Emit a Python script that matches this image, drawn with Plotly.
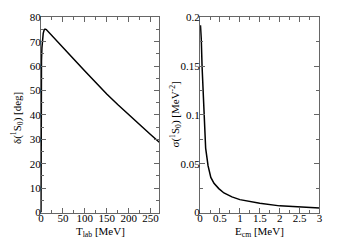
import plotly.graph_objects as go

# Left panel: phase shift
t_lab = [0, 0.02, 0.1, 0.3, 0.6, 1, 2, 3, 5, 7, 9, 12, 20, 30, 50, 75, 100, 125, 150, 175, 200, 225, 250, 270]
delta = [0, 20, 38, 50, 57, 62, 67.5, 70.5, 73.5, 74.8, 75.2, 75.0, 73.5, 71.5, 67.5, 62.8, 58.0, 53.2, 48.6, 44.3, 40.1, 36.0, 32.0, 28.8]

# Right panel: cross section
e_cm = [0.01, 0.03, 0.05, 0.08, 0.1, 0.14, 0.2, 0.27, 0.35, 0.47, 0.6, 0.8, 1.0, 1.25, 1.5, 2.0, 2.5, 3.0]
sigma = [0.192, 0.178, 0.15, 0.115, 0.097, 0.066, 0.048, 0.036, 0.03, 0.0245, 0.02, 0.016, 0.0132, 0.011, 0.0095, 0.0068, 0.0056, 0.0046]

FONT = "Liberation Serif, Times New Roman, serif"
AX = "#666666"

fig = go.Figure()
fig.add_trace(go.Scatter(x=t_lab, y=delta, mode="lines", line=dict(color="black", width=1.5),
                         xaxis="x", yaxis="y", showlegend=False, hoverinfo="skip"))
fig.add_trace(go.Scatter(x=e_cm, y=sigma, mode="lines", line=dict(color="black", width=1.5),
                         xaxis="x2", yaxis="y2", showlegend=False, hoverinfo="skip"))

common = dict(showgrid=False, zeroline=False, showline=True, linecolor=AX, linewidth=1,
              mirror="allticks", ticks="inside", ticklen=5, tickcolor=AX,
              tickfont=dict(family=FONT, size=11, color="black"))
xcommon = dict(common, ticklabelstandoff=-5)
ycommon = dict(common, ticklabelstandoff=-3)

y_dom = [31 / 248, 236 / 248]
xd1 = [38.7 / 351, 159 / 351]
xd2 = [200.5 / 351, 322 / 351]
fig.update_layout(
    width=351, height=248,
    margin=dict(l=0, r=0, t=0, b=0),
    paper_bgcolor="white", plot_bgcolor="white",
    font=dict(family=FONT, size=11, color="black"),
    xaxis=dict(domain=xd1, range=[0, 270], dtick=50, tick0=0,
               minor=dict(ticks="inside", ticklen=3, dtick=25, tickcolor=AX),
               anchor="y", **xcommon),
    yaxis=dict(domain=y_dom, range=[0, 80], dtick=10, tick0=0,
               minor=dict(ticks="inside", ticklen=3, dtick=5, tickcolor=AX),
               anchor="x", **ycommon),
    xaxis2=dict(domain=xd2, range=[0, 3], dtick=0.5, tick0=0,
                minor=dict(ticks="inside", ticklen=3, dtick=0.25, tickcolor=AX),
                anchor="y2", **xcommon),
    yaxis2=dict(domain=y_dom, range=[0, 0.2], dtick=0.05, tick0=0,
                minor=dict(ticks="inside", ticklen=3, dtick=0.025, tickcolor=AX),
                anchor="x2", **ycommon),
)

titles = [
    dict(text="T<sub>lab</sub> [MeV]", x=(xd1[0] + xd1[1]) / 2, y=11 / 248, textangle=0),
    dict(text="E<sub>cm</sub> [MeV]", x=(xd2[0] + xd2[1]) / 2, y=11 / 248, textangle=0),
    dict(text="δ(<sup>1</sup>S<sub>0</sub>) [deg]", x=15 / 351, y=130 / 248, textangle=-90),
    dict(text="σ(<sup>1</sup>S<sub>0</sub>) [MeV<sup>-2</sup>]", x=176 / 351, y=134 / 248, textangle=-90),
]
for t in titles:
    fig.add_annotation(text=t["text"], x=t["x"], y=t["y"], xref="paper", yref="paper",
                       showarrow=False, textangle=t["textangle"], xanchor="center", yanchor="middle",
                       font=dict(family=FONT, size=11, color="black"))

fig.write_html("out.html", config={"displayModeBar": False},
               post_script="document.body.style.margin='0';")
